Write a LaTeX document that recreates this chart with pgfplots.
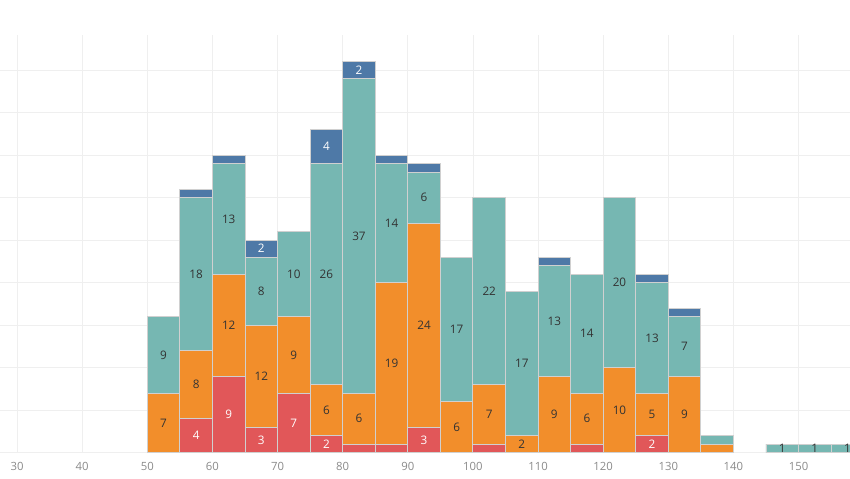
\documentclass[border=0pt]{standalone}
\usepackage{pgfplots}
\pgfplotsset{compat=1.18}
\usepackage{pgfplotstable}
\usepackage{fontspec}
\setmainfont{Open Sans}
\definecolor{tred}{HTML}{E15759}
\definecolor{torange}{HTML}{F28E2B}
\definecolor{tteal}{HTML}{76B7B2}
\definecolor{tblue}{HTML}{4E79A7}
\definecolor{gridc}{HTML}{EFEFEF}
\definecolor{tickc}{HTML}{8A8A8A}
\definecolor{barb}{HTML}{D0D0D0}
\definecolor{labdark}{HTML}{333333}

% x = bin centre, bins of width 5
\pgfplotstableread{
x     red orange teal blue
52.5  0   7      9    0
57.5  4   8      18   1
62.5  9   12     13   1
67.5  3   12     8    2
72.5  7   9      10   0
77.5  2   6      26   4
82.5  1   6      37   2
87.5  1   19     14   1
92.5  3   24     6    1
97.5  0   6      17   0
102.5 1   7      22   0
107.5 0   2      17   0
112.5 0   9      13   1
117.5 1   6      14   0
122.5 0   10     20   0
127.5 2   5      13   1
132.5 0   9      7    1
137.5 0   1      1    0
147.5 0   0      1    0
152.5 0   0      1    0
157.5 0   0      1    0
}\bins

% label positions (segment centres)
\pgfplotstableread{
x     y     lab
52.5  3.5   7
52.5  11.5  9
57.5  8     8
57.5  21    18
62.5  15    12
62.5  27.5  13
67.5  9     12
67.5  19    8
72.5  11.5  9
72.5  21    10
77.5  5     6
77.5  21    26
82.5  4     6
82.5  25.5  37
87.5  10.5  19
87.5  27    14
92.5  15    24
92.5  30    6
97.5  3     6
97.5  14.5  17
102.5 4.5   7
102.5 19    22
107.5 1     2
107.5 10.5  17
112.5 4.5   9
112.5 15.5  13
117.5 4     6
117.5 14    14
122.5 5     10
122.5 20    20
127.5 4.5   5
127.5 13.5  13
132.5 4.5   9
132.5 12.5  7
147.5 0.5   1
152.5 0.5   1
157.5 0.5   1
}\darklabels

\pgfplotstableread{
x     y     lab
57.5  2     4
62.5  4.5   9
67.5  1.5   3
67.5  24    2
72.5  3.5   7
77.5  1     2
77.5  36    4
82.5  45    2
92.5  1.5   3
127.5 1     2
}\whitelabels

\begin{document}
\begin{tikzpicture}
\pgfplotsset{
  common/.style={
    at={(0,0)}, anchor=south west,
    scale only axis, width=637.5pt, height=313.3pt,
    xmin=27.38, xmax=157.9, ymin=0, ymax=49.15,
  }
}
\begin{axis}[common,
  ybar stacked, bar width=5,
  axis line style={draw=none},
  major tick length=0pt,
  xtick={30,40,...,150}, ytick={0,5,...,45}, yticklabels={},
  grid=major, grid style={gridc, line width=0.6pt},
  /pgf/number format/assume math mode=true,
  xticklabel style={font=\fontsize{8.5}{10}\selectfont, text=tickc, yshift=-3.5pt},
  every axis plot/.append style={draw=barb, line width=0.7pt},
]
\addplot[fill=tred] table[x=x, y=red] {\bins};
\addplot[fill=torange] table[x=x, y=orange] {\bins};
\addplot[fill=tteal] table[x=x, y=teal] {\bins};
\addplot[fill=tblue] table[x=x, y=blue] {\bins};
\coordinate (sw) at (rel axis cs:0,0);
\coordinate (ne) at (rel axis cs:1,1);
\end{axis}
\begin{axis}[common, hide axis, clip=false]
\addplot[only marks, mark=none, nodes near coords, point meta=explicit symbolic,
  nodes near coords style={anchor=center, font=\fontsize{8.8}{10}\selectfont, text=labdark}]
  table[x=x, y=y, meta=lab] {\darklabels};
\addplot[only marks, mark=none, nodes near coords, point meta=explicit symbolic,
  nodes near coords style={anchor=center, font=\fontsize{8.8}{10}\selectfont, text=white}]
  table[x=x, y=y, meta=lab] {\whitelabels};
\end{axis}
\pgfresetboundingbox
\path ([yshift=-19pt]sw) rectangle ([yshift=26.25pt]ne);
\end{tikzpicture}
\end{document}
